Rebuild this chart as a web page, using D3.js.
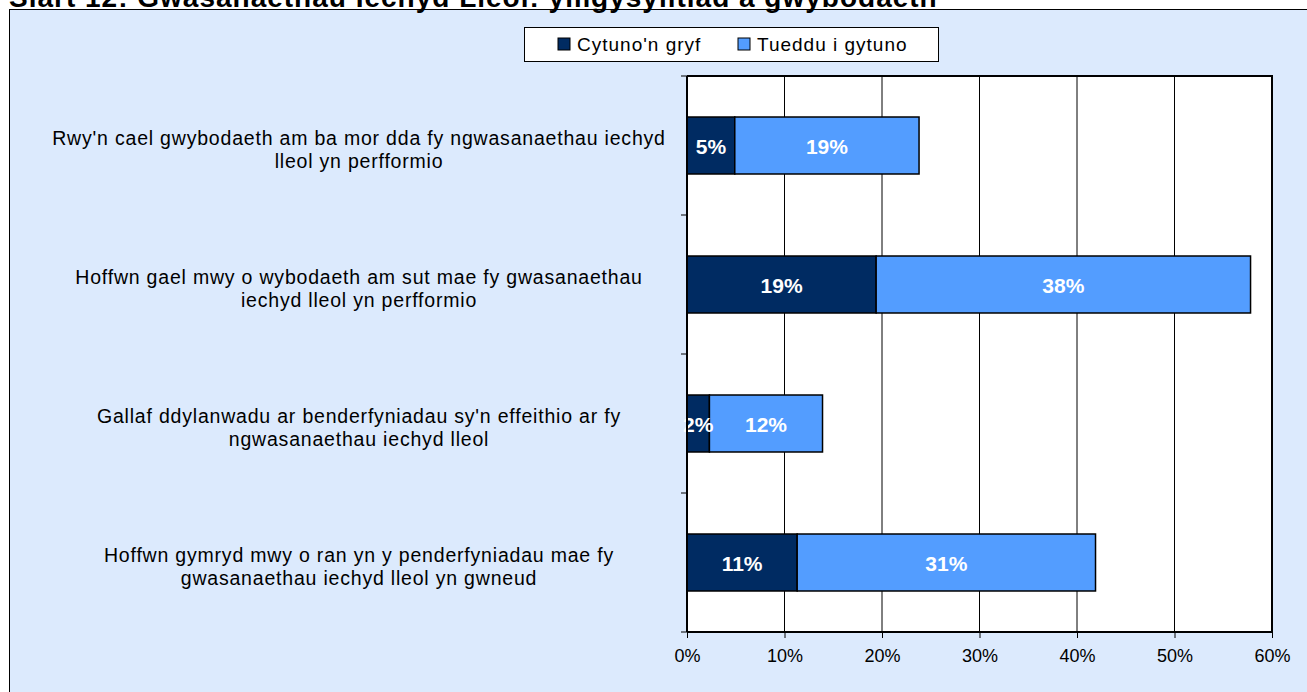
<!DOCTYPE html>
<html>
<head>
<meta charset="utf-8">
<script src="https://cdn.jsdelivr.net/npm/d3@7"></script>
<style>
  body { margin: 0; background: #fff; }
  text { font-family: Arial, "Liberation Sans", sans-serif; }
</style>
</head>
<body>
<div id="chart"></div>
<script>
// Data
var categories = [
  ["Rwy'n cael gwybodaeth am ba mor dda fy ngwasanaethau iechyd", "lleol yn perfformio"],
  ["Hoffwn gael mwy o wybodaeth am sut mae fy gwasanaethau", "iechyd lleol yn perfformio"],
  ["Gallaf ddylanwadu ar benderfyniadau sy'n effeithio ar fy", "ngwasanaethau iechyd lleol"],
  ["Hoffwn gymryd mwy o ran yn y penderfyniadau mae fy", "gwasanaethau iechyd lleol yn gwneud"]
];
var seriesNames = ["Cytuno'n gryf", "Tueddu i gytuno"];
var stronglyAgree = [4.9, 19.4, 2.3, 11.3];
var tendToAgree = [18.9, 38.4, 11.6, 30.6];
var xTicks = [0, 10, 20, 30, 40, 50, 60];
var colors = ["#002B62", "#539DFF"];

var W = 1307, H = 692;
var svg = d3.select('#chart').append('svg')
  .attr('width', W).attr('height', H);

// Outer chart area
svg.append('rect')
  .attr('x', 9.5).attr('y', 9.5)
  .attr('width', W + 10).attr('height', H + 10)
  .attr('fill', '#DCEAFD').attr('stroke', '#000').attr('stroke-width', 1);

// Title (cut off at top like the source)
svg.append('text')
  .attr('x', 9).attr('y', 7)
  .attr('font-size', 28).attr('font-weight', 'bold')
  .attr('letter-spacing', 1)
  .text('Siart 12:  Gwasanaethau Iechyd Lleol: ymgysylltiad a gwybodaeth');

var plot = { left: 687, right: 1272, top: 76, bottom: 632 };

var x = d3.scaleLinear().domain([0, 60]).range([plot.left, plot.right]);
var y = d3.scaleBand().domain(d3.range(categories.length))
  .range([plot.top, plot.bottom]).paddingInner(0.59).paddingOuter(0.295);

// Plot background
svg.append('rect')
  .attr('x', plot.left).attr('y', plot.top)
  .attr('width', plot.right - plot.left).attr('height', plot.bottom - plot.top)
  .attr('fill', '#fff');

// Gridlines
svg.append('g').selectAll('line')
  .data(xTicks.slice(1))
  .join('line')
  .attr('x1', d => x(d)).attr('x2', d => x(d))
  .attr('y1', plot.top).attr('y2', plot.bottom)
  .attr('stroke', '#000').attr('stroke-width', 1);

// Plot border top/right
svg.append('path')
  .attr('d', `M${plot.left},${plot.top}H${plot.right}V${plot.bottom}`)
  .attr('fill', 'none').attr('stroke', '#000').attr('stroke-width', 2);

// Bars
var stacked = categories.map((c, i) => [
  { s: 0, x0: 0, x1: stronglyAgree[i], v: stronglyAgree[i], i: i },
  { s: 1, x0: stronglyAgree[i], x1: stronglyAgree[i] + tendToAgree[i], v: tendToAgree[i], i: i }
]).flat();

svg.append('g').selectAll('rect')
  .data(stacked)
  .join('rect')
  .attr('x', d => x(d.x0)).attr('y', d => y(d.i))
  .attr('width', d => x(d.x1) - x(d.x0)).attr('height', y.bandwidth())
  .attr('fill', d => colors[d.s])
  .attr('stroke', '#000').attr('stroke-width', 1.5);

svg.append('g').selectAll('text')
  .data(stacked)
  .join('text')
  .attr('x', d => (x(d.x0) + x(d.x1)) / 2)
  .attr('y', d => y(d.i) + y.bandwidth() / 2 + 8)
  .attr('text-anchor', 'middle')
  .attr('font-size', 21).attr('font-weight', 'bold').attr('fill', '#fff')
  .text(d => Math.round(d.v) + '%');

// Y axis
var yEdges = d3.range(categories.length + 1).map(i => plot.top + i * (plot.bottom - plot.top) / categories.length);
svg.append('line')
  .attr('x1', plot.left).attr('x2', plot.left)
  .attr('y1', plot.top).attr('y2', plot.bottom)
  .attr('stroke', '#000').attr('stroke-width', 2);
svg.append('g').selectAll('line')
  .data(yEdges)
  .join('line')
  .attr('x1', plot.left - 6).attr('x2', plot.left)
  .attr('y1', d => d).attr('y2', d => d)
  .attr('stroke', '#000').attr('stroke-width', 1);

var labels = svg.append('g').selectAll('text')
  .data(categories)
  .join('text')
  .attr('text-anchor', 'middle')
  .attr('font-size', 19.5)
  .attr('letter-spacing', 0.8)
  .attr('fill', '#000');
labels.each(function (lines, i) {
  var cy = y(i) + y.bandwidth() / 2;
  d3.select(this).selectAll('tspan')
    .data(lines)
    .join('tspan')
    .attr('x', 359)
    .attr('y', (d, j) => cy - 1 + j * 23)
    .text(d => d);
});

// X axis
var xAxis = d3.axisBottom(x).tickValues(xTicks).tickSize(6).tickFormat(d => d + '%');
var gx = svg.append('g')
  .attr('transform', `translate(0,${plot.bottom})`)
  .call(xAxis);
gx.select('.domain').attr('stroke', '#000').attr('stroke-width', 2)
  .attr('d', `M${plot.left},0H${plot.right}`);
gx.selectAll('.tick line').attr('stroke', '#000');
gx.selectAll('.tick text')
  .attr('font-size', 18).attr('font-family', 'Arial, "Liberation Sans", sans-serif')
  .attr('fill', '#000').attr('dy', '1.15em');

// Legend
var legend = svg.append('g');
legend.append('rect')
  .attr('x', 524.5).attr('y', 27.5).attr('width', 414).attr('height', 34)
  .attr('fill', '#fff').attr('stroke', '#000').attr('stroke-width', 1);
var legendX = [558, 738];
var li = legend.selectAll('g.item')
  .data(seriesNames)
  .join('g').attr('class', 'item')
  .attr('transform', (d, i) => `translate(${legendX[i]},44)`);
li.append('rect')
  .attr('x', 0).attr('y', -6).attr('width', 12).attr('height', 12)
  .attr('fill', (d, i) => colors[i]).attr('stroke', '#000').attr('stroke-width', 1);
li.append('text')
  .attr('x', 19).attr('y', 7)
  .attr('font-size', 19).attr('letter-spacing', 1)
  .text(d => d);
</script>
</body>
</html>
